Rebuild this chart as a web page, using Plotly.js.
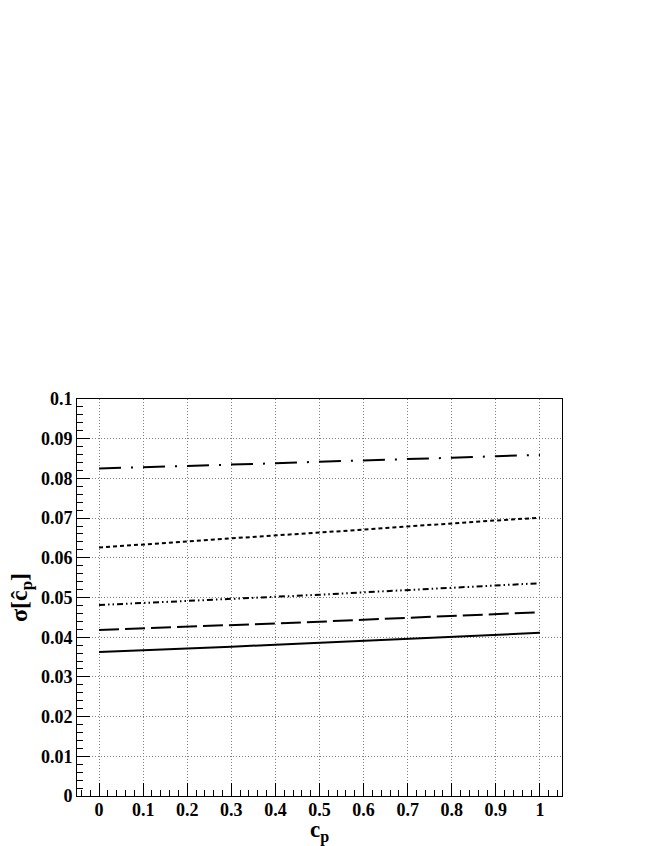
<!DOCTYPE html>
<html>
<head>
<meta charset="utf-8">
<script src="https://cdn.plot.ly/plotly-3.0.1.min.js"></script>
<style>
  html, body { margin: 0; padding: 0; background: #ffffff; }
  #chart { width: 654px; height: 846px; }
</style>
</head>
<body>
<div id="chart"></div>
<script>
// c_p values along the x axis
var cp = [0, 0.1, 0.2, 0.3, 0.4, 0.5, 0.6, 0.7, 0.8, 0.9, 1];

// sigma[c_p hat] curves, top to bottom
var sigmaA = [0.0825, 0.0828, 0.0832, 0.0835, 0.0838, 0.0842, 0.0845, 0.0849, 0.0852, 0.0856, 0.0859];
var sigmaB = [0.0626, 0.0633, 0.0641, 0.0649, 0.0656, 0.0663, 0.0671, 0.0679, 0.0687, 0.0694, 0.0701];
var sigmaC = [0.0481, 0.0486, 0.0491, 0.0496, 0.0502, 0.0507, 0.0513, 0.0519, 0.0524, 0.0530, 0.0536];
var sigmaD = [0.0418, 0.0422, 0.0426, 0.0430, 0.0435, 0.0439, 0.0444, 0.0449, 0.0453, 0.0458, 0.0463];
var sigmaE = [0.0363, 0.0367, 0.0372, 0.0376, 0.0381, 0.0386, 0.0391, 0.0396, 0.0401, 0.0406, 0.0411];

var makeTrace = function(y, dash){
  return {
    x: cp,
    y: y,
    type: 'scatter',
    mode: 'lines',
    line: { color: '#000000', width: 2, dash: dash },
    hoverinfo: 'skip'
  };
};

var data = [
  makeTrace(sigmaA, '22px,10px,2px,10px'),
  makeTrace(sigmaB, '4px,3px'),
  makeTrace(sigmaC, '6px,3px,1.5px,3px,1.5px,3px'),
  makeTrace(sigmaD, '20px,6px'),
  makeTrace(sigmaE, 'solid')
];

var serif = 'Liberation Serif';

var layout = {
  width: 654,
  height: 846,
  showlegend: false,
  paper_bgcolor: '#ffffff',
  plot_bgcolor: '#ffffff',
  margin: { l: 77, r: 92, t: 399, b: 50 },
  font: { family: serif, color: '#000000' },
  xaxis: {
    range: [-0.05, 1.05],
    tick0: 0,
    dtick: 0.1,
    ticks: 'inside',
    ticklen: 13,
    tickcolor: '#000000',
    minor: { ticks: 'inside', ticklen: 6, dtick: 0.02, tickcolor: '#000000', showgrid: false },
    showgrid: true,
    gridcolor: '#7f7f7f',
    griddash: '1px,2px',
    gridwidth: 1,
    zeroline: false,
    showline: true,
    linecolor: '#000000',
    linewidth: 1,
    mirror: true,
    ticklabelstandoff: -3,
    tickfont: { family: serif, size: 18, color: '#000000', weight: 'bold' },
    title: {
      text: 'c<sub>p</sub>',
      font: { family: serif, size: 23, color: '#000000', weight: 'bold' },
      standoff: 14
    }
  },
  yaxis: {
    range: [0, 0.1],
    tick0: 0,
    dtick: 0.01,
    ticks: 'inside',
    ticklen: 13,
    tickcolor: '#000000',
    minor: { ticks: 'inside', ticklen: 6, dtick: 0.002, tickcolor: '#000000', showgrid: false },
    showgrid: true,
    gridcolor: '#7f7f7f',
    griddash: '1px,2px',
    gridwidth: 1,
    zeroline: false,
    showline: true,
    linecolor: '#000000',
    linewidth: 1,
    mirror: true,
    tickfont: { family: serif, size: 18, color: '#000000', weight: 'bold' },
    title: {
      text: 'σ[c\u0302<sub>p</sub>]',
      font: { family: serif, size: 24, color: '#000000', weight: 'bold' },
      standoff: 6
    }
  }
};

Plotly.newPlot('chart', data, layout, { displayModeBar: false, staticPlot: true });
</script>
</body>
</html>
